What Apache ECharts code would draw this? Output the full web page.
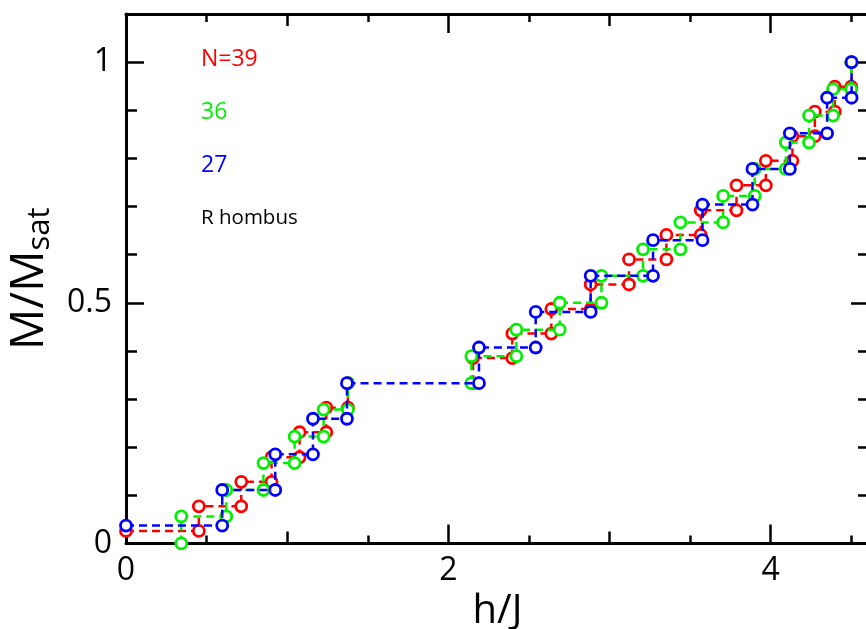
<!DOCTYPE html>
<html><head><meta charset="utf-8">
<script src="https://cdn.jsdelivr.net/npm/echarts@6/dist/echarts.min.js"></script>
<style>html,body{margin:0;padding:0;background:#fff}#c{width:866px;height:629px}</style>
</head><body><div id="c"></div>
<script>
// ---- data ----
const seriesNames = ['N=39', '36', '27'];
const legendLabels = ['N=39', '36', '27', 'R hombus'];

// N=39 : start field, jump fields, plateau levels (M/Msat), plateaus whose line is hidden under N=27
const startN39 = 0;
const jumpsN39 = [0.452, 0.715, 0.903, 1.077, 1.243, 1.377, 2.153, 2.397, 2.639, 2.883, 3.121, 3.353, 3.566, 3.788, 3.970, 4.135, 4.274, 4.398, 4.500];
const levelsN39 = [0.026, 0.077, 0.128, 0.179, 0.231, 0.282, 0.333, 0.385, 0.436, 0.487, 0.538, 0.590, 0.641, 0.692, 0.744, 0.795, 0.846, 0.897, 0.949, 1.0];
const gapsN39 = [6];

// N=36
const startN36 = 0.343;
const jumpsN36 = [0.343, 0.622, 0.853, 1.046, 1.226, 1.377, 2.143, 2.422, 2.691, 2.950, 3.208, 3.440, 3.705, 3.901, 4.094, 4.238, 4.387, 4.500];
const levelsN36 = [0.0, 0.056, 0.111, 0.167, 0.222, 0.278, 0.333, 0.389, 0.444, 0.500, 0.556, 0.611, 0.667, 0.722, 0.778, 0.833, 0.889, 0.944, 1.0];
const gapsN36 = [6];

// N=27
const startN27 = 0;
const jumpsN27 = [0.597, 0.926, 1.160, 1.371, 2.190, 2.542, 2.883, 3.270, 3.577, 3.887, 4.119, 4.350, 4.502];
const levelsN27 = [0.037, 0.111, 0.185, 0.259, 0.333, 0.407, 0.481, 0.556, 0.630, 0.704, 0.778, 0.852, 0.926, 1.0];
const gapsN27 = [];

const xTickLabels = ['0', '2', '4'];
const yTickLabels = ['0', '0.5', '1'];

// ---- build ----
function steps(h0, jumps, levels, gaps) {
  const pts = [];
  let left = h0;
  for (let k = 0; k < jumps.length; k++) {
    pts.push([left, levels[k]]);
    if (gaps.includes(k)) pts.push([left, '-']);
    if (jumps[k] !== left) pts.push([jumps[k], levels[k]]);
    left = jumps[k];
  }
  pts.push([left, levels[levels.length - 1]]);
  return pts;
}
const colors = ['#ff0000', '#00f000', '#0000ff'];
const legendColors = ['#ff0000', '#00f000', '#0000ff', '#000000'];
const FONT = 'Open Sans';
const dataSets = [
  steps(startN39, jumpsN39, levelsN39, gapsN39),
  steps(startN36, jumpsN36, levelsN36, gapsN36),
  steps(startN27, jumpsN27, levelsN27, gapsN27)
];

const XMAX = 4.61, YMAX = 1.1;
const lineStyle = { color: '#000', width: 3 };
function xAx(pos, interval, len, opts) {
  return Object.assign({
    type: 'value', position: pos, min: 0, max: XMAX, interval: interval,
    axisLine: { show: false, onZero: false, lineStyle: lineStyle },
    axisTick: { show: true, inside: true, length: len, lineStyle: { color: '#000', width: 2.5 } },
    axisLabel: { show: false }, splitLine: { show: false }
  }, opts || {});
}
function yAx(pos, interval, len, opts) {
  return Object.assign({
    type: 'value', position: pos, min: 0, max: YMAX, interval: interval,
    axisLine: { show: false, onZero: false, lineStyle: lineStyle },
    axisTick: { show: true, inside: true, length: len, lineStyle: { color: '#000', width: 2.5 } },
    axisLabel: { show: false }, splitLine: { show: false }
  }, opts || {});
}
const xLabelFmt = v => { const s = String(Math.round(v * 100) / 100); return xTickLabels.includes(s) ? s : ''; };
const yLabelFmt = v => { const s = String(Math.round(v * 100) / 100); return yTickLabels.includes(s) ? s : ''; };

const option = {
  animation: false,
  backgroundColor: '#fff',
  grid: { left: 126, top: 14, width: 743, height: 529.4, containLabel: false, outerBoundsMode: 'none' },
  xAxis: [
    xAx('bottom', 2, 19, {
      axisLine: { show: true, onZero: false, lineStyle: lineStyle },
      axisLabel: { show: true, color: '#000', fontSize: 32, fontFamily: FONT, margin: 11, showMaxLabel: false, formatter: xLabelFmt },
      name: 'h/J', nameLocation: 'middle', nameGap: 38,
      nameTextStyle: { color: '#000', fontSize: 40, fontFamily: FONT }
    }),
    xAx('bottom', 1, 12),
    xAx('bottom', 0.5, 8),
    xAx('top', 2, 19, { axisLine: { show: true, onZero: false, lineStyle: lineStyle } }),
    xAx('top', 1, 12),
    xAx('top', 0.5, 8)
  ],
  yAxis: [
    yAx('left', 0.5, 18, {
      axisLine: { show: true, onZero: false, lineStyle: lineStyle },
      axisLabel: { show: true, color: '#000', fontSize: 32, fontFamily: FONT, margin: 14, showMaxLabel: false, formatter: yLabelFmt },
      name: '{a|M/M}{b|sat}', nameLocation: 'middle', nameGap: 70,
      nameTextStyle: {
        color: '#000', fontFamily: FONT,
        rich: {
          a: { fontSize: 46, fontFamily: FONT, color: '#000', lineHeight: 52 },
          b: { fontSize: 31, fontFamily: FONT, color: '#000', verticalAlign: 'bottom', lineHeight: 30 }
        }
      }
    }),
    yAx('left', 0.1, 11),
    yAx('right', 0.5, 18, { axisLine: { show: true, onZero: false, lineStyle: lineStyle } }),
    yAx('right', 0.1, 11)
  ],
  series: dataSets.map((d, i) => ({
    name: seriesNames[i],
    type: 'line',
    xAxisIndex: 0, yAxisIndex: 0,
    data: d,
    connectNulls: false,
    symbol: 'circle',
    symbolSize: 11,
    showAllSymbol: true,
    clip: false,
    lineStyle: { color: colors[i], width: 2.5, type: [8, 5] },
    itemStyle: { color: '#fff', borderColor: colors[i], borderWidth: 2.8 },
    emphasis: { disabled: true },
    z: 2 + i
  })),
  graphic: legendLabels.map((t, i) => ({
    type: 'text',
    x: 201, y: 59 + i * 53,
    style: {
      text: t, fill: legendColors[i],
      font: (i === 3 ? '20.5px ' : '23px ') + '"' + FONT + '"',
      align: 'left', verticalAlign: 'middle'
    },
    z: 10
  }))
};
const chart = echarts.init(document.getElementById('c'), null, { renderer: 'canvas' });
chart.setOption(option);
</script>
</body></html>
